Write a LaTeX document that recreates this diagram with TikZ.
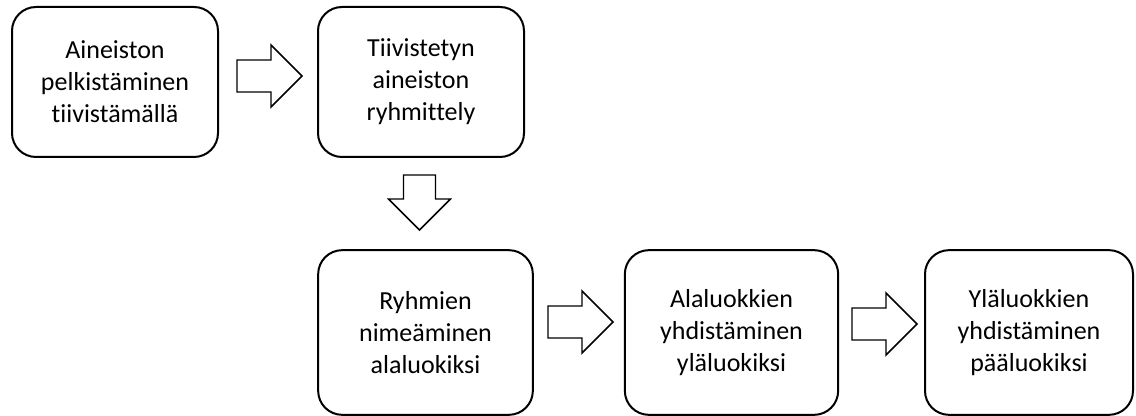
\documentclass[tikz,border=0pt]{standalone}
\usepackage{fontspec}
\setmainfont{Carlito}[Ligatures={NoCommon}]
\tikzset{
  stepbox/.style={draw, line width=1.5pt, rounded corners=18pt, align=center,
    minimum height=112.5pt, font=\fontsize{19.5}{24}\selectfont, inner sep=0pt},
  pics/blockarrow/.style={code={
    \draw[line width=1.1pt, line join=miter] (0,-16) -- (#1-31,-16) -- (#1-31,-31) -- (#1,0)
      -- (#1-31,31) -- (#1-31,16) -- (0,16) -- cycle ;}}
}
\begin{document}
\begin{tikzpicture}[x=0.75pt,y=0.75pt,yscale=-1,xscale=1]
\useasboundingbox (0,0) rectangle (1136,416);

% Boxes
\node[stepbox, minimum width=154.5pt] (pelkistys) at (115,82) {Aineiston\\pelkistäminen\\tiivistämällä};
\node[stepbox, minimum width=154.5pt] (ryhmittely) at (421,82) {Tiivistetyn\\aineiston\\ryhmittely};
\node[stepbox, minimum width=161pt, minimum height=123.5pt] (alaluokat) at (425.5,332.5) {Ryhmien\\nimeäminen\\alaluokiksi};
\node[stepbox, minimum width=160pt, minimum height=123.5pt] (ylaluokat) at (731.5,332.5) {Alaluokkien\\yhdistäminen\\yläluokiksi};
\node[stepbox, minimum width=156pt, minimum height=123.5pt] (paaluokat) at (1029,332.5) {Yläluokkien\\yhdistäminen\\pääluokiksi};

% Block arrows
\pic at (237,76) {blockarrow=65};
\pic[rotate=-90] at (419.5,175) {blockarrow=55};
\pic at (548,322) {blockarrow=65};
\pic at (852,324) {blockarrow=65};
\end{tikzpicture}
\end{document}
